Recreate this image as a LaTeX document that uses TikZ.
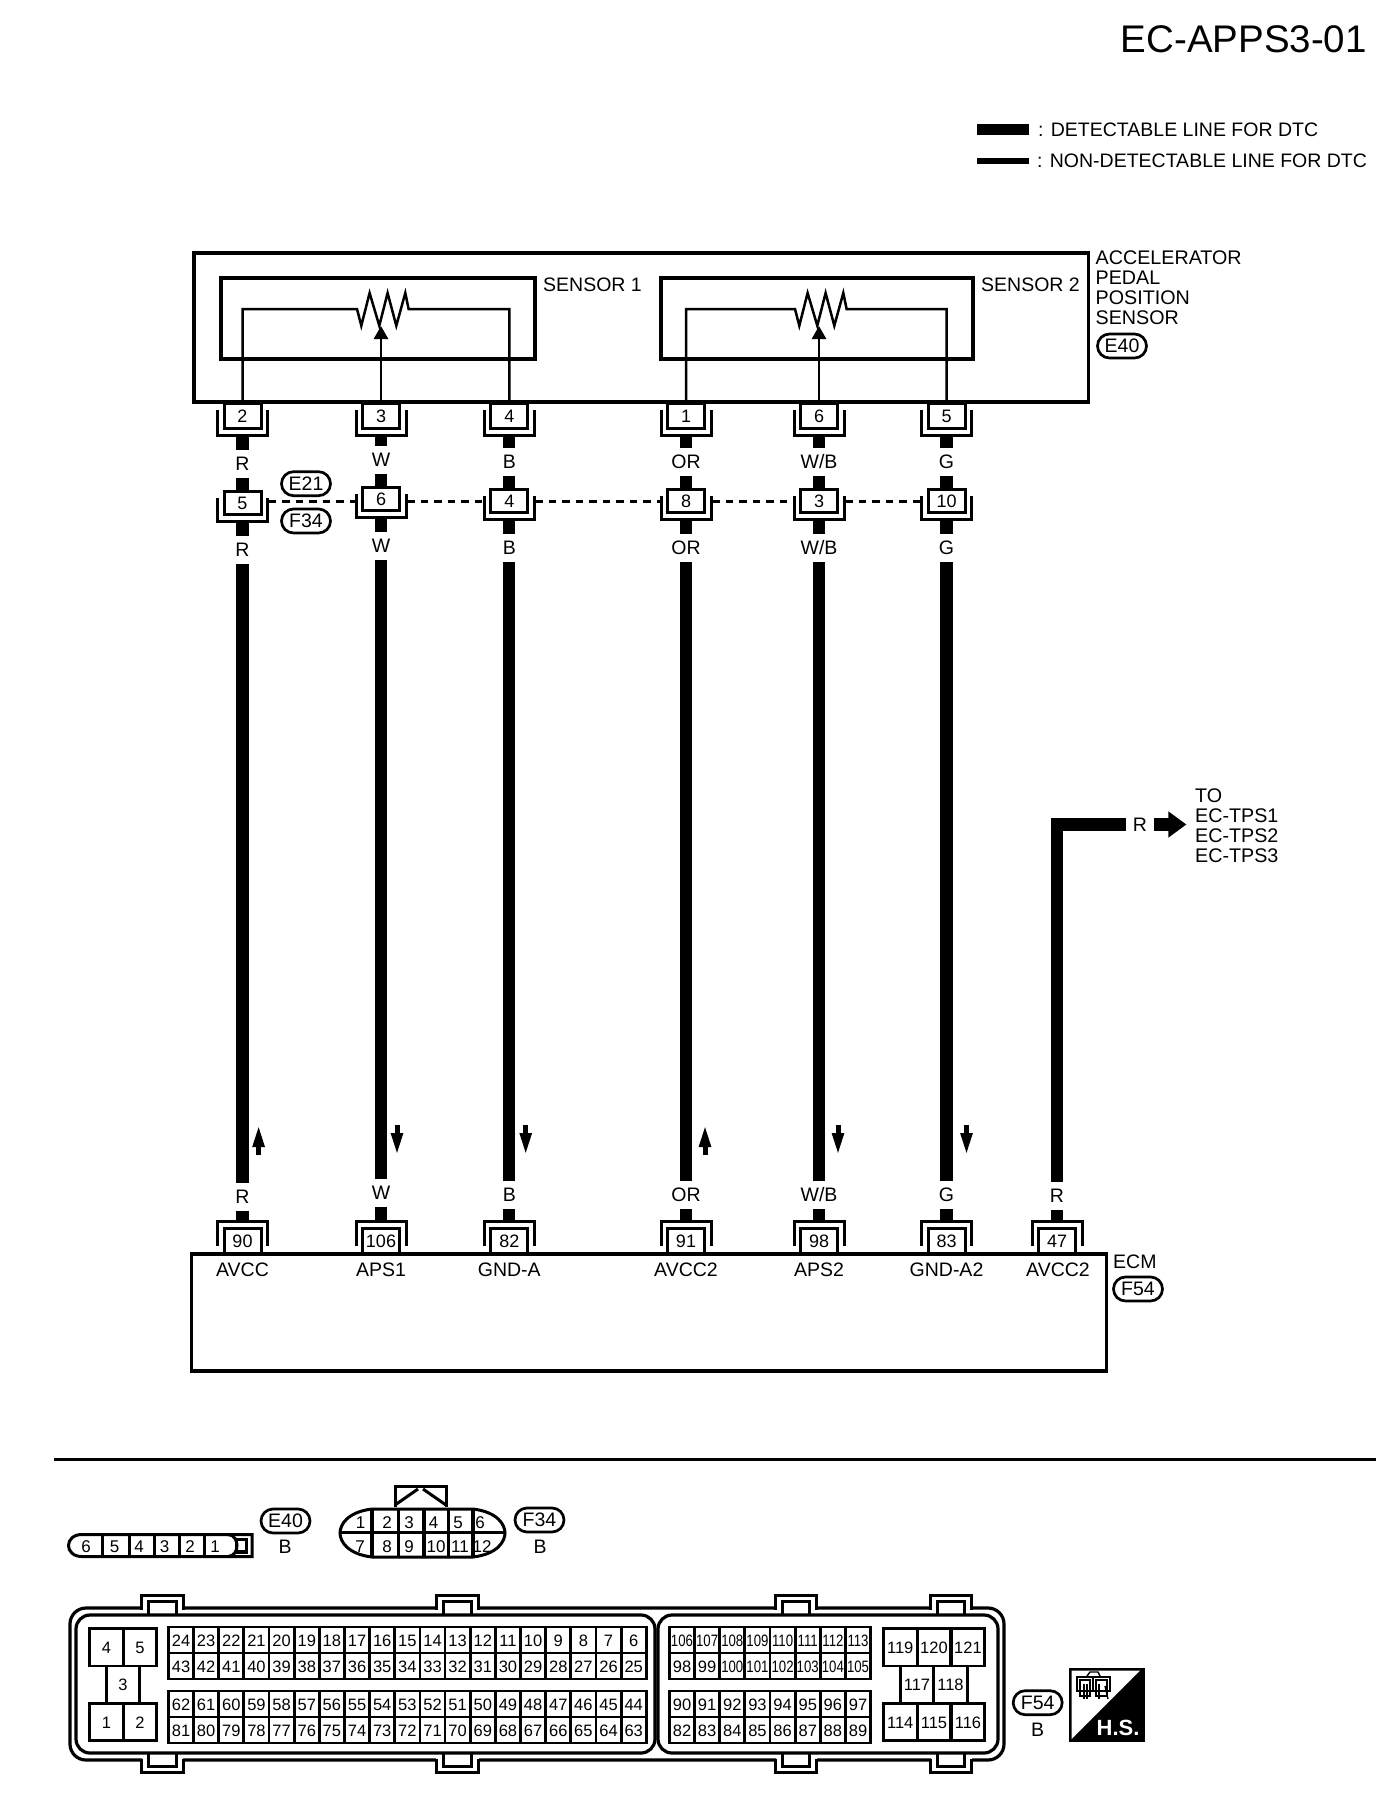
\documentclass[tikz,border=0pt]{standalone}
\usepackage{fontspec}
\setmainfont{Liberation Sans}
\usetikzlibrary{arrows.meta, positioning}
% open brackets round a pin box
\newcommand{\ubrack}[1]{\draw[brk] ([shift={(-25pt,-6.5pt)}]#1.north) |- ([yshift=-7.2pt]#1.south) -| ([shift={(25pt,-6.5pt)}]#1.north);}
\newcommand{\nbrack}[1]{\draw[brk] ([shift={(-25pt,7pt)}]#1.south) |- ([yshift=7pt]#1.north) -| ([shift={(25pt,7pt)}]#1.south);}
% resistor zigzag
\newcommand{\zig}{-- ++(4.3,16.7) -- ++(8.3,-32.7) -- ++(9.7,32.7) -- ++(8.3,-32.7) -- ++(8.7,32.7) -- ++(9,-32.7) -- ++(3.3,16)}
\newcommand{\cavtxt}[1]{\ifnum#1>99 \scalebox{.8}[1]{#1}\else#1\fi}
\newcommand{\cavrow}[3]{\foreach \n [count=\i from 0] in {#1} \node[cav] (c\n) at ({#2+\i*25.15},#3) {\cavtxt{\n}};}
\tikzset{
  % wires
  harn/.style={line width=12.3pt},
  sig/.style={line width=2.5pt},
  dashl/.style={line width=3pt, dash pattern=on 7.5pt off 6pt, shorten <=7.5pt, shorten >=7.5pt},
  brk/.style={line width=3pt},
  upflow/.style={line width=5pt, >={Triangle[length=22pt,width=11pt]}, ->},
  dnflow/.style={line width=5pt, >={Triangle[length=22pt,width=11pt]}, <-},
  % text
  lab/.style={font=\fontsize{19.5}{19.7}\selectfont, inner sep=0, text height=13.8pt, text depth=0pt},
  wcol/.style={lab, minimum height=28pt, minimum width=28pt},
  blk/.style={align=left, font=\fontsize{19.7}{19.7}\selectfont, inner sep=0, anchor=north west},
  % boxes
  box/.style={draw, line width=3.2pt, outer sep=0, inner sep=0},
  pinbox/.style={box, line width=3pt, fill=white, minimum width=37pt, minimum height=23pt, font=\fontsize{18}{18}\selectfont, text height=13pt, text depth=0pt},
  pill/.style={lab, draw, line width=2.7pt, rounded corners=12pt, minimum width=49pt, minimum height=24pt, outer sep=0},
  cav/.style={box, line width=2.8pt, minimum width=25.15pt, minimum height=26pt, font=\fontsize{16.5}{16.5}\selectfont, text height=12pt, text depth=0pt},
  cavp/.style={cav, minimum width=33.5pt, minimum height=37.5pt},
  num/.style={font=\fontsize{17}{17}\selectfont, inner sep=0, text height=12.2pt, text depth=0pt},
}
\begin{document}
\begin{tikzpicture}[x=1pt,y=-1pt]
  \useasboundingbox (0,0) rectangle (1392,1798);

  % header and legend
  \node[font=\fontsize{38.5}{39}\selectfont, inner sep=0, anchor=east] (title) at (1367,39) {EC-APPS3-01};
  \node[lab, anchor=west] (leg1) at (1038,130) {: DETECTABLE LINE FOR DTC};
  \node[lab, anchor=west] (leg2) at (1037,161) {: NON-DETECTABLE LINE FOR DTC};
  \draw[line width=11pt] ([xshift=-9pt]leg1.west) -- ++(-52,0);
  \draw[line width=5.5pt] ([xshift=-8pt]leg2.west) -- ++(-52,0);

  % sensor and ECM
  \node[box, minimum width=894.5pt, minimum height=149pt] (aps) at (641.25,327.5) {};
  \node[box, minimum width=314pt, minimum height=81pt] (sen1) at (378,318.5) {};
  \node[box, minimum width=312pt, minimum height=81pt] (sen2) at (817,318.5) {};
  \node[box, minimum width=915pt, minimum height=117pt] (ecm) at (649,1312.5) {};
  \node[lab, anchor=west] (sen1t) at (543,285) {SENSOR 1};
  \node[lab, anchor=west] (sen2t) at (981,285) {SENSOR 2};
  \node[blk] (apst) at (1095.5,251) {ACCELERATOR\\PEDAL\\POSITION\\SENSOR};
  \node[pill] (e40a) at (1122,346) {E40};
  \node[pill] (e21) at (306,483.7) {E21};
  \node[pill] (f34a) at (306,521) {F34};
  \node[lab, anchor=west] (ecmt) at (1113,1262) {ECM};
  \node[pill] (f54a) at (1138,1289) {F54};

  % one column per harness wire
  \foreach \x/\sp/\wc/\jp/\ep/\en/\d/\ax/\dir [count=\c] in {
    242.5/2/R/5/90/AVCC/2/258.6/upflow,
    381/3/W/6/106/APS1/-2/397/dnflow,
    509.3/4/B/4/82/GND-A/0/525.7/dnflow,
    686/1/OR/8/91/AVCC2/0/705/upflow,
    819/6/{W/B}/3/98/APS2/0/838/dnflow,
    946.5/5/G/10/83/GND-A2/0/966.5/dnflow}{
    \node[pinbox, minimum height=25pt] (sp\c) at (\x,415.5) {\sp};
    \node[wcol] (lt\c) at (\x,{461.7+\d}) {\wc};
    \node[pinbox] (jn\c) at (\x,{501+\d}) {\jp};
    \node[wcol] (lb\c) at (\x,{548+\d}) {\wc};
    \node[wcol] (lc\c) at (\x,{1195+\d}) {\wc};
    \node[pinbox, minimum height=25pt] (ep\c) at (\x,1240.5) {\ep};
    \node[lab] (en\c) at (\x,1270) {\en};
    \ubrack{sp\c}
    \ubrack{jn\c}
    \nbrack{ep\c}
    \draw[harn, shorten <=7.5pt] (sp\c.south) -- (lt\c.north);
    \draw[harn] (lt\c.south) -- (jn\c.north);
    \draw[harn, shorten <=7pt] (jn\c.south) -- (lb\c.north);
    \draw[harn] (lb\c.south) -- (lc\c.north);
    \draw[harn, shorten >=7.5pt] (lc\c.south) -- (ep\c.north);
    \draw[\dir] (\ax,1155) -- (\ax,1125);
  }

  % wire to the throttle sensors
  \node[wcol] (lc7) at (1057,1196) {R};
  \node[pinbox, minimum height=25pt] (ep7) at (1057,1240.5) {47};
  \node[lab] (en7) at (1058,1270) {AVCC2};
  \nbrack{ep7}
  \node[wcol] (lt7) at (1140,824.5) {R};
  \node[blk] (tps) at (1195,789) {TO\\EC-TPS1\\EC-TPS2\\EC-TPS3};
  \draw[harn] (lc7.north) |- (lt7.west);
  \draw[harn, shorten >=8.6pt, -{Triangle[length=18pt,width=25pt]}] (lt7.east) -- (tps.west |- lt7.east);
  \draw[harn, shorten >=7.5pt] (lc7.south) -- (ep7.north);

  % shared connector line
  \coordinate (dy) at (0,501.5);
  \foreach \a/\b in {1/2,2/3,3/4,4/5,5/6}
    \draw[dashl] (jn\a.east |- dy) -- (jn\b.west |- dy);

  % sensor elements
  \coordinate (rs1) at (357,309);
  \coordinate (rs2) at (795,309);
  \draw[sig] (sp1.north) |- (rs1) \zig -| (sp3.north);
  \draw[sig] (sp4.north) |- (rs2) \zig -| (sp6.north);
  \coordinate (wp1) at (381,326);
  \coordinate (wp2) at (819,326);
  \draw[line width=2.7pt, -{Triangle[length=13pt,width=14pt]}] (sp2.north) -- (wp1);
  \draw[line width=2.7pt, -{Triangle[length=13pt,width=14pt]}] (sp5.north) -- (wp2);

  % separator
  \draw[line width=3pt] (54,1459.5) -- (1375.7,1459.5);

  % connector E40
  \draw[line width=3pt] (82,1534.5) .. controls (64,1534.5) and (64,1556.5) .. (82,1556.5) -- (252,1556.5) -- (252,1534.5) -- cycle;
  \draw[line width=3pt] (228,1534.5) .. controls (240,1535) and (240,1556) .. (228,1556.5);
  \draw[line width=3.5pt] (236.5,1539.5) rectangle (246.5,1552);
  \foreach \x in {102,129,154,179,204}
    \draw[line width=3pt] (\x,1534.5) -- (\x,1556.5);
  \foreach \n/\x in {6/86,5/114.6,4/139,3/164.6,2/190,1/215}
    \node[num] (ea\n) at (\x,1546) {\n};
  \node[pill] (e40b) at (285.5,1521) {E40};
  \node[lab] (e40c) at (285,1547) {B};

  % connector F34
  \draw[line width=3pt] (372,1509) .. controls (347,1512) and (340,1525) .. (340,1533) .. controls (340,1541) and (347,1554) .. (372,1557)
    -- (473,1557) .. controls (498,1554) and (505,1541) .. (505,1533) .. controls (505,1525) and (498,1512) .. (473,1509) -- cycle;
  \draw[line width=3pt] (340,1532.5) -- (505,1532.5);
  \foreach \x in {398,448}
    \draw[line width=3pt] (\x,1509) -- (\x,1557);
  \foreach \x in {372,424,473}
    \draw[line width=4pt] (\x,1509) -- (\x,1557);
  \draw[line width=3pt] (395,1507) -- (395,1486.5) -- (446,1486.5) -- (446,1507);
  \draw[line width=3pt] (395,1505) -- (418,1489);
  \draw[line width=3pt] (423,1489) -- (446,1505);
  \foreach \n/\x/\y in {1/360.5/1522,2/387/1522,3/409/1522,4/433.5/1522,5/458/1522,6/480/1522,
    7/360/1546,8/387/1546,9/409/1546,10/436/1546,11/460/1546,12/482/1546}
    \node[num] (fa\n) at (\x,\y) {\n};
  \node[pill] (f34b) at (539.5,1520) {F34};
  \node[lab] (f34c) at (540,1547) {B};

  % connector F54 shell
  \node[box, rounded corners=16pt, minimum width=934pt, minimum height=152pt] (shell) at (537,1684) {};
  \node[box, rounded corners=14pt, minimum width=579pt, minimum height=138pt] (hal1) at (365.5,1684) {};
  \node[box, rounded corners=14pt, minimum width=340pt, minimum height=138pt] (hal2) at (828,1684) {};
  \foreach \a/\b in {141.5/183,436/478.5,775.5/816.5,930.5/971.5}{
    \fill[white] (\a,1600) rectangle (\b,1612.5);
    \fill[white] (\a,1755.5) rectangle (\b,1768);
    \draw[line width=3pt] (\a,1609.5) -- (\a,1595.5) -- (\b,1595.5) -- (\b,1609.5);
    \draw[line width=3pt] (\a,1758.5) -- (\a,1772.5) -- (\b,1772.5) -- (\b,1758.5);
    \draw[line width=3pt] ({\a+7},1615) -- ({\a+7},1601.5) -- ({\b-7},1601.5) -- ({\b-7},1615);
    \draw[line width=3pt] ({\a+7},1753) -- ({\a+7},1766.5) -- ({\b-7},1766.5) -- ({\b-7},1753);
  }

  % F54 cavities
  \cavrow{24,23,...,6}{181}{1640}
  \cavrow{43,42,...,25}{181}{1666}
  \cavrow{62,61,...,44}{181}{1704}
  \cavrow{81,80,...,63}{181}{1730}
  \cavrow{106,107,...,113}{682}{1640}
  \cavrow{98,99,...,105}{682}{1666}
  \cavrow{90,91,...,97}{682}{1704}
  \cavrow{82,83,...,89}{682}{1730}
  \foreach \n/\x/\y in {4/106.5/1647.3,5/140/1647.3,3/123/1684.7,1/106.5/1722,2/140/1722,
    119/900.2/1647.3,120/934/1647.3,121/968/1647.3,117/917/1684.7,118/950.5/1684.7,
    114/900.2/1722,115/934/1722,116/968/1722}
    \node[cavp] (c\n) at (\x,\y) {\n};
  \node[pill] (f54b) at (1037.7,1702.7) {F54};
  \node[lab] (f54c) at (1037.7,1730) {B};

  % harness symbol
  \fill (1069,1668) rectangle (1145,1742);
  \fill[white] (1071.5,1670.5) -- (1140,1670.5) -- (1071.5,1739) -- cycle;
  \node[inner sep=0, text=white, font=\bfseries\fontsize{22}{22}\selectfont] (hs) at (1118,1728) {H.S.};
  \draw[line width=1.4pt] (1077,1677) rectangle (1093,1691);
  \draw[line width=1.4pt] (1093,1677) rectangle (1110,1691);
  \draw[line width=1.4pt] (1080,1680) rectangle (1090,1696);
  \draw[line width=1.4pt] (1096,1680) rectangle (1107,1696);
  \draw[line width=1.4pt] (1087,1676) -- (1090,1672) -- (1098,1672) -- (1100,1676);
  \draw[line width=1.4pt] (1084,1684) -- (1084,1699);
  \draw[line width=1.4pt] (1087,1684) -- (1087,1699);
  \draw[line width=1.4pt] (1099,1684) -- (1099,1699);
  \draw[line width=1.4pt] (1105,1686) -- (1108,1699);
\end{tikzpicture}
\end{document}
